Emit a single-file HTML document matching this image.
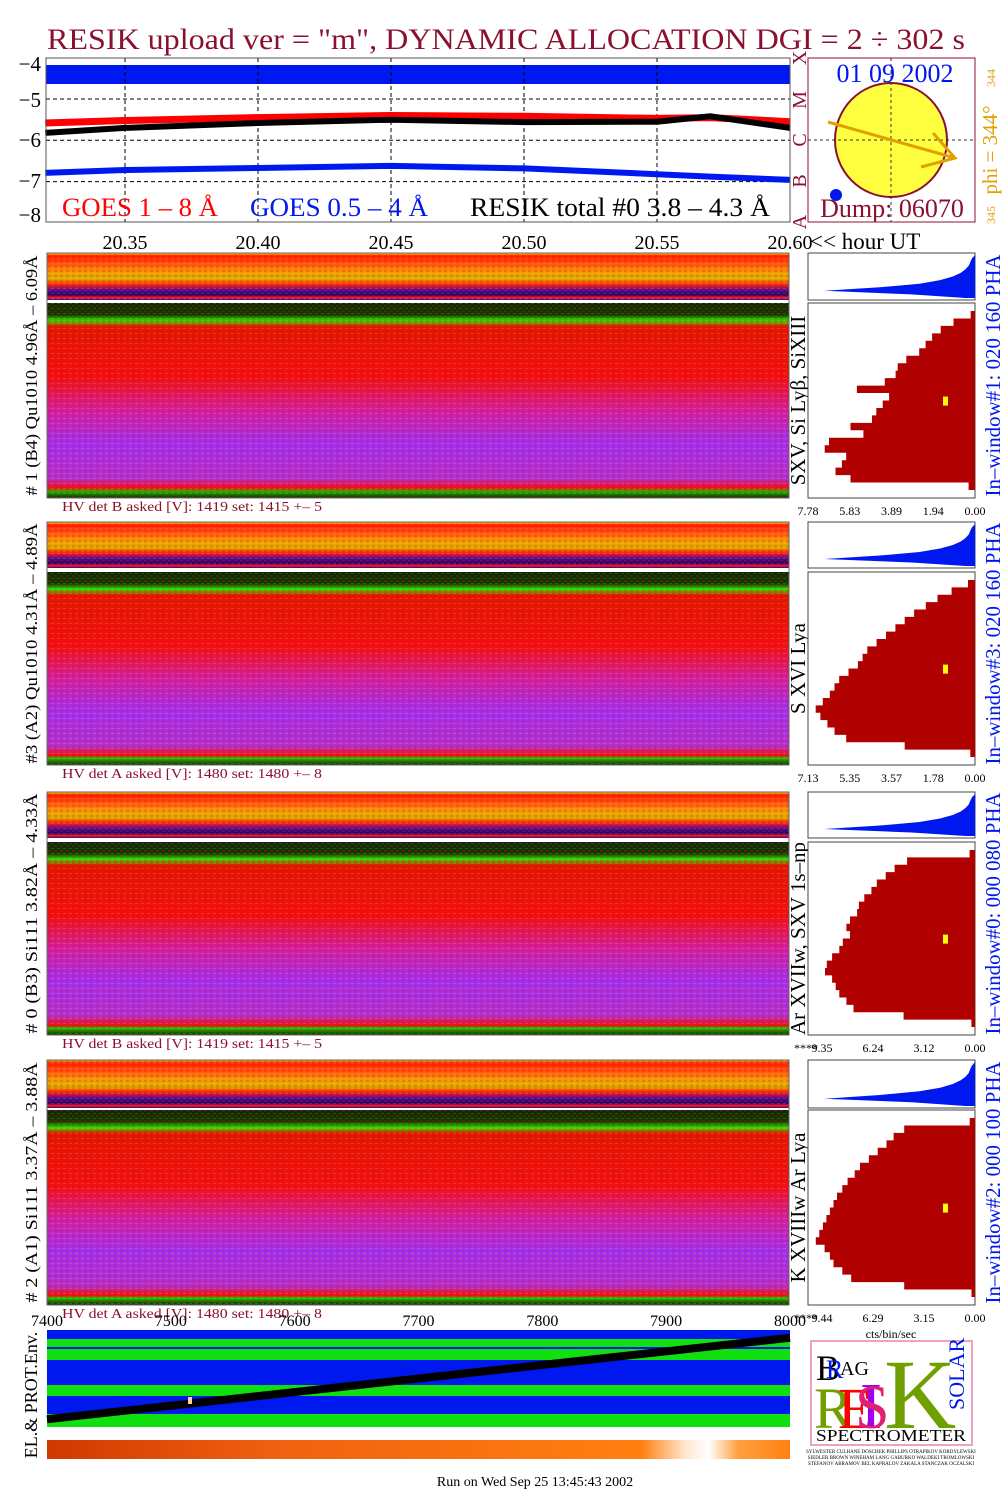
<!DOCTYPE html>
<html><head><meta charset="utf-8">
<style>
html,body{margin:0;padding:0;background:#fff;}
body{width:1008px;height:1505px;overflow:hidden;}
svg{display:block;font-family:"Liberation Serif",serif;}
</style></head>
<body>
<svg id="chart" width="1008" height="1505" viewBox="0 0 1008 1505" xmlns="http://www.w3.org/2000/svg">
<defs>
<linearGradient id="gTop" x1="0" y1="0" x2="0" y2="1">
<stop offset="0" stop-color="#ffe000"/><stop offset="0.06" stop-color="#ff2000"/>
<stop offset="0.25" stop-color="#ff5a10"/><stop offset="0.42" stop-color="#f0a000"/>
<stop offset="0.55" stop-color="#d8b000"/><stop offset="0.66" stop-color="#ff3000"/>
<stop offset="0.74" stop-color="#a01060"/><stop offset="0.82" stop-color="#3a0a90"/>
<stop offset="0.9" stop-color="#300060"/><stop offset="0.95" stop-color="#ff2020"/><stop offset="1" stop-color="#400080"/>
</linearGradient>
<linearGradient id="gMain" x1="0" y1="0" x2="0" y2="1">
<stop offset="0" stop-color="#0a2a00"/><stop offset="0.06" stop-color="#123a00"/>
<stop offset="0.09" stop-color="#30e000"/><stop offset="0.12" stop-color="#e01800"/>
<stop offset="0.38" stop-color="#f01010"/><stop offset="0.55" stop-color="#d020a0"/>
<stop offset="0.72" stop-color="#a030f0"/><stop offset="0.9" stop-color="#b030d0"/>
<stop offset="0.95" stop-color="#f01010"/><stop offset="0.965" stop-color="#20c000"/><stop offset="1" stop-color="#0a2a00"/>
</linearGradient>
<pattern id="pTex" width="6" height="5" patternUnits="userSpaceOnUse">
<rect x="0" y="0" width="3" height="2" fill="#ff0000" opacity="0.25"/>
<rect x="3" y="3" width="3" height="1" fill="#ffffff" opacity="0.15"/>
</pattern>
<linearGradient id="gOrange" x1="0" y1="0" x2="1" y2="0">
<stop offset="0" stop-color="#d03800"/><stop offset="0.3" stop-color="#f06010"/>
<stop offset="0.8" stop-color="#ff8010"/><stop offset="0.86" stop-color="#ffe8d0"/>
<stop offset="0.89" stop-color="#ffffff"/><stop offset="0.93" stop-color="#ffa040"/><stop offset="1" stop-color="#ff8010"/>
</linearGradient>
</defs>
<g id="root"></g>
</svg>
<script>
// ---- GOES / RESIK light curves (log flux) ----
const hours = [20.32,20.35,20.40,20.45,20.50,20.55,20.57,20.60];
const goesLong = [-5.58,-5.52,-5.45,-5.40,-5.42,-5.47,-5.45,-5.55];
const goesShort = [-6.79,-6.72,-6.67,-6.62,-6.68,-6.82,-6.88,-6.96];
const resikTotal = [-5.82,-5.70,-5.58,-5.50,-5.56,-5.55,-5.42,-5.70];
const timeTicks = ["20.35","20.40","20.45","20.50","20.55","20.60"];
const logTicks = [-4,-5,-6,-7,-8];
// ---- PHA histograms per detector window (top->bottom bins) ----
const hist1 = [0.2,1.0,1.6,2.0,2.3,2.6,3.2,3.6,3.7,4.2,5.5,4.0,4.3,4.6,4.8,5.8,5.2,6.8,7.0,6.0,6.2,6.5,5.8,0.3];
const hist3 = [0.3,1.0,1.6,2.1,2.6,3.0,3.4,3.8,4.2,4.6,4.8,5.0,5.4,5.8,6.0,6.2,6.5,6.8,6.6,6.3,6.0,5.5,3.0,0.2];
const hist0 = [0.3,3.8,4.5,5.0,5.5,5.8,6.2,6.5,6.6,7.0,7.2,7.0,7.4,7.6,8.0,8.3,8.4,8.0,7.8,7.6,7.2,6.8,4.0,0.2];
const hist2 = [0.3,4.0,4.6,5.0,5.5,6.0,6.5,6.8,7.2,7.5,7.8,8.0,8.2,8.4,8.6,8.8,9.0,8.5,8.2,8.0,7.5,7.0,4.0,0.2];
const histMax = [7.78,7.13,9.35,9.44];
const histTicks1 = ["7.78","5.83","3.89","1.94","0.00"];
const histTicks3 = ["7.13","5.35","3.57","1.78","0.00"];
const histTicks0 = ["9.35","6.24","3.12","0.00"];
const histTicks2 = ["9.44","6.29","3.15","0.00"];
const spec = [0.2,0.3,0.4,0.6,0.9,1.4,2.2,3.5,6.0,9.5,4.0,0.6];
// ---- environment ----
const envDump = [7400,8000];
const envLine = [0.08,0.92];
const envTicks = ["7400","7500","7600","7700","7800","7900","8000"];

const NS="http://www.w3.org/2000/svg";
const root=document.getElementById('root');
function el(tag,attrs,parent,txt){const e=document.createElementNS(NS,tag);for(const k in attrs)e.setAttribute(k,attrs[k]);if(txt!==undefined)e.textContent=txt;(parent||root).appendChild(e);return e;}
const DR="#8b1030";
const SG='spacingAndGlyphs';

// title
let t=el('text',{x:47,y:49,'font-size':30,fill:DR,textLength:918,lengthAdjust:SG},root,'RESIK upload ver = "m", DYNAMIC ALLOCATION  DGI =   2 ÷ 302 s');


// top plot
const X0=46,X1=790,Y0=58,Y1=222;
const xT=h=>125+(h-20.35)*2660;
const yL=v=>99+(-5-v)*41.3;
const labelY=[64,100,140,181,215];
let g=el('g',{});
el('rect',{x:X0,y:65,width:X1-X0,height:19,fill:'#0018f0'},g);
logTicks.forEach((v,i)=>{let yy=yL(v);if(v>-8&&v<-4)el('line',{x1:X0,x2:X1,y1:yy,y2:yy,stroke:'#000','stroke-dasharray':'4,3','stroke-width':1},g);
 let tx=el('text',{x:41,y:labelY[i]+7,'font-size':21,'text-anchor':'end'},g,'−'+Math.abs(v));});
timeTicks.slice(0,5).forEach(s=>{let xx=xT(+s);el('line',{x1:xx,x2:xx,y1:Y0,y2:Y1,stroke:'#000','stroke-dasharray':'4,3'},g);});
function poly(xs,ys,col,w,name){let d=xs.map((h,i)=>(i?'L':'M')+xT(h).toFixed(1)+' '+yL(ys[i]).toFixed(1)).join(' ');let p=el('path',{d:d,fill:'none',stroke:col,'stroke-width':w},g);}
const hx=hours.map(h=>Math.max(h,20.3197));
poly(hx,goesLong,'#ff0000',7,'goes-long-line');
poly(hx,resikTotal,'#000',6,'resik-total-line');
poly(hx,goesShort,'#0018f0',6,'goes-short-line');
el('rect',{x:X0,y:Y0,width:X1-X0,height:Y1-Y0,fill:'none',stroke:'#555'},g);
[['GOES 1 – 8 Å',62,'#ff0000','goes-long-legend',156],['GOES 0.5 – 4 Å',250,'#0018f0','goes-short-legend',178],['RESIK total #0  3.8 – 4.3 Å',470,'#000','resik-legend',300]].forEach(a=>{let e=el('text',{x:a[1],y:216,'font-size':26,fill:a[2],textLength:a[4],lengthAdjust:SG},g,a[0]);});
['X','M','C','B','A'].forEach((c,i)=>{let yy=[58,100,140,181,222][i];el('text',{x:806,y:yy,'font-size':20,fill:DR,transform:`rotate(-90 806 ${yy})`,'text-anchor':'middle'},g,c);});
timeTicks.forEach(s=>{let e=el('text',{x:xT(+s),y:249,'font-size':20,'text-anchor':'middle'},root,s);});
el('text',{x:810,y:249,'font-size':23},root,'<< hour UT');

// sun box
let s=el('g',{});
el('rect',{x:808,y:58,width:167,height:164,fill:'#fff',stroke:DR},s);
el('ellipse',{cx:891,cy:140,rx:56,ry:57,fill:'#ffff40',stroke:DR,'stroke-width':2},s);
el('line',{x1:808,x2:975,y1:140,y2:140,stroke:'#333','stroke-dasharray':'3,3'},s);
el('line',{x1:891,x2:891,y1:58,y2:222,stroke:'#333','stroke-dasharray':'3,3'},s);
el('path',{d:'M828 122 L955 158 M933 133 L955 158 L921 167',fill:'none',stroke:'#e0a000','stroke-width':3},s);
el('circle',{cx:836,cy:195,r:6,fill:'#0018f0'},s);
el('text',{x:895,y:82,'font-size':26,fill:'#0018f0','text-anchor':'middle'},s,'01 09 2002');
el('text',{x:892,y:217,'font-size':26,fill:DR,'text-anchor':'middle'},s,'Dump: 06070');
el('text',{x:997,y:150,'font-size':21,fill:'#e0a000',transform:'rotate(-90 997 150)','text-anchor':'middle'},s,'phi = 344°');
el('text',{x:995,y:78,'font-size':12,fill:'#e0a000',transform:'rotate(-90 995 78)','text-anchor':'middle'},s,'344');
el('text',{x:995,y:215,'font-size':12,fill:'#e0a000',transform:'rotate(-90 995 215)','text-anchor':'middle'},s,'345');

// panels
const panels=[
 {top:253,th:47,main:303,mh:195,hv:'HV det B asked [V]:  1419 set:  1415  +–    5',left:'# 1 (B4) Qu1010  4.96Å – 6.09Å',line:'SXV, Si Lyβ, SiXIII',win:'In–window#1:  020 160 PHA',h:hist1,mx:histMax[0],ticks:histTicks1,n:'1'},
 {top:522,th:46,main:572,mh:193,hv:'HV det A asked [V]:  1480 set:  1480  +–    8',left:'#3 (A2) Qu1010  4.31Å – 4.89Å',line:'S XVI Lya',win:'In–window#3:  020 160 PHA',h:hist3,mx:histMax[1],ticks:histTicks3,n:'3'},
 {top:792,th:46,main:842,mh:193,hv:'HV det B asked [V]:  1419 set:  1415  +–    5',left:'# 0 (B3) Si111  3.82Å – 4.33Å',line:'Ar XVIIw,  SXV 1s–np',win:'In–window#0:  000 080 PHA',h:hist0,mx:histMax[2],ticks:histTicks0,n:'0'},
 {top:1060,th:48,main:1110,mh:195,hv:'HV det A asked [V]:  1480 set:  1480  +–    8',left:'# 2 (A1) Si111  3.37Å – 3.88Å',line:'K XVIIIw  Ar Lya',win:'In–window#2:  000 100 PHA',h:hist2,mx:histMax[3],ticks:histTicks2,n:'2'}];
panels.forEach((p,pi)=>{
 let G=el('g',{});
 let a=el('rect',{x:47,y:p.top,width:742,height:p.th,fill:'url(#gTop)'},G);
 el('rect',{x:47,y:p.top,width:742,height:p.th,fill:'url(#pTex)'},G);
 let b=el('rect',{x:47,y:p.main,width:742,height:p.mh,fill:'url(#gMain)'},G);
 el('rect',{x:47,y:p.main,width:742,height:p.mh,fill:'url(#pTex)'},G);
 el('rect',{x:47,y:p.top,width:742,height:p.main+p.mh-p.top,fill:'none',stroke:'#666'},G);
 let hv=el('text',{x:62,y:p.main+p.mh+13,'font-size':14,fill:DR,textLength:260,lengthAdjust:SG},G,p.hv);
 let cy=(p.top+p.main+p.mh)/2;
 el('text',{x:37,y:cy,'font-size':17,transform:`rotate(-90 37 ${cy})`,'text-anchor':'middle',textLength:240,lengthAdjust:SG},G,p.left);
 let my=p.main+p.mh/2;
 el('text',{x:805,y:my,'font-size':21,transform:`rotate(-90 805 ${my})`,'text-anchor':'middle'},G,p.line);
 el('text',{x:1000,y:cy,'font-size':21,fill:'#0018f0',transform:`rotate(-90 1000 ${cy})`,'text-anchor':'middle',textLength:242,lengthAdjust:SG},G,p.win);
 // histograms
 const HX0=808,HX1=975,W=HX1-HX0;
 el('rect',{x:HX0,y:p.top,width:W,height:p.th,fill:'#fff',stroke:'#444'},G);
 let sd='M'+HX1+' '+(p.top+2);spec.forEach((v,i)=>{let yy=p.top+2+(i+1)*(p.th-4)/spec.length;sd+=' L'+(HX1-v/10*W*0.95).toFixed(1)+' '+yy.toFixed(1);});sd+=' L'+HX1+' '+(p.top+p.th-2)+' Z';
 let sp=el('path',{d:sd,fill:'#0018f0'},G);
 el('rect',{x:HX0,y:p.main,width:W,height:p.mh,fill:'#fff',stroke:'#444'},G);
 let n=p.h.length,bh=(p.mh-16)/n,d='M'+HX1+' '+(p.main+8);
 p.h.forEach((v,i)=>{let xx=HX1-v/p.mx*W;d+=' L'+xx.toFixed(1)+' '+(p.main+8+i*bh).toFixed(1)+' L'+xx.toFixed(1)+' '+(p.main+8+(i+1)*bh).toFixed(1);});
 d+=' L'+HX1+' '+(p.main+p.mh-8)+' Z';
 let hp=el('path',{d:d,fill:'#b00000'},G);
 el('rect',{x:943,y:p.main+p.mh*0.48,width:5,height:9,fill:'#ffff00'},G);
 const tx0=p.ticks.length===5?808:822;
 p.ticks.forEach((tk,i)=>{let xx=tx0+i*(975-tx0)/(p.ticks.length-1);el('text',{x:xx,y:p.main+p.mh+17,'font-size':12,'text-anchor':'middle'},G,tk);});
 if(pi>=2)el('text',{x:794,y:p.main+p.mh+17,'font-size':12},G,'****');
});
el('text',{x:891,y:1338,'font-size':12,'text-anchor':'middle'},root,'cts/bin/sec');

// environment panel
const EX0=47,EX1=790,EY0=1330,EY1=1427;
const xE=v=>EX0+(v-7400)/600*(EX1-EX0);
let E=el('g',{});
[[1330,1427,'#0018f0'],[1339,1360,'#10e010'],[1385,1396,'#10e010'],[1414,1427,'#10e010']].forEach(r=>el('rect',{x:EX0,y:r[0],width:EX1-EX0,height:r[1]-r[0],fill:r[2]},E));
el('rect',{x:EX0,y:1347,width:EX1-EX0,height:2,fill:'#0018f0'},E);
let ln=el('line',{x1:xE(envDump[0]),y1:EY1-envLine[0]*(EY1-EY0),x2:xE(envDump[1]),y2:EY1-envLine[1]*(EY1-EY0),stroke:'#000','stroke-width':8},E);

el('rect',{x:188,y:1397,width:4,height:7,fill:'#ffd0b0'},E);
envTicks.forEach((tk,i)=>{let e=el('text',{x:xE(7400+i*100),y:1326,'font-size':16,'text-anchor':'middle'},root,tk);});
let o=el('rect',{x:47,y:1440,width:743,height:19,fill:'url(#gOrange)'},root);
el('text',{x:37,y:1395,'font-size':18,transform:'rotate(-90 37 1395)','text-anchor':'middle'},root,'EL.& PROT.Env.');

// logo
let L=el('g',{});
el('rect',{x:811,y:1341,width:161,height:104,fill:'#fff',stroke:'#f0a0c0','stroke-width':2},L);
el('text',{x:816,y:1380,'font-size':36,fill:'#000'},L,'B');
el('text',{x:826,y:1378,'font-size':26,fill:'#0018f0'},L,'R');
el('text',{x:840,y:1375,'font-size':20,fill:'#000'},L,'AG');
el('text',{x:814,y:1428,'font-size':58,fill:'#70a000'},L,'R');
el('text',{x:838,y:1428,'font-size':58,fill:'#ff0000'},L,'E');
el('text',{x:860,y:1428,'font-size':66,fill:'#a000f0'},L,'I');
el('text',{x:855,y:1428,'font-size':62,fill:'#e02070'},L,'S');
el('text',{x:884,y:1428,'font-size':100,fill:'#70a000'},L,'K');
el('text',{x:964,y:1410,'font-size':22,fill:'#0018f0',transform:'rotate(-90 964 1410)'},L,'SOLAR');
el('text',{x:891,y:1441,'font-size':17,'text-anchor':'middle',textLength:150,lengthAdjust:SG},L,'SPECTROMETER');
el('text',{x:891,y:1453,'font-size':5,'text-anchor':'middle'},L,'SYLWESTER  CULHANE  DOSCHEK  PHILLIPS  OTRAPIKOV  KORDYLEWSKI');
el('text',{x:891,y:1459,'font-size':5,'text-anchor':'middle'},L,'SIEDLER  BROWN  WINEHAM  LANG  GABURKO  WALDEKI  TROMLOWSKI');
el('text',{x:891,y:1465,'font-size':5,'text-anchor':'middle'},L,'STEFANOV  ABRAMOV  BEL  KAPRALOV  ZAKALA  STANCZAK  OCZALSKI');

let f=el('text',{x:535,y:1486,'font-size':14,'text-anchor':'middle'},root,'Run on Wed Sep 25 13:45:43 2002');

</script>
</body></html>
